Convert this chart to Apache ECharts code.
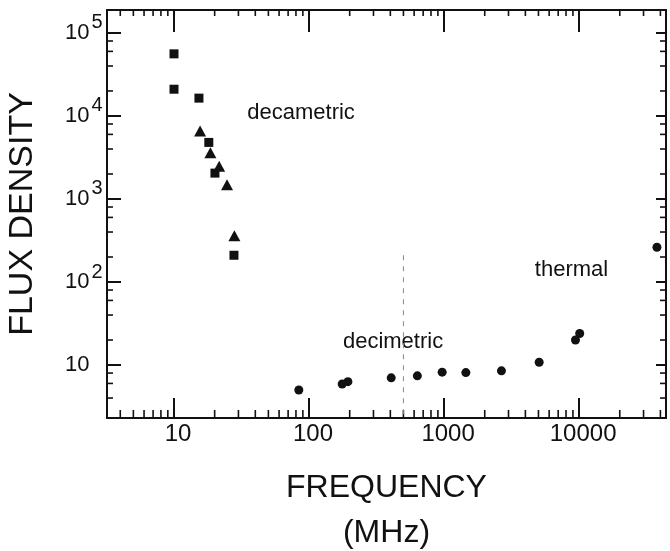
<!DOCTYPE html>
<html><head><meta charset="utf-8">
<script src="https://cdn.jsdelivr.net/npm/echarts@6/dist/echarts.min.js"></script>
<style>html,body{margin:0;padding:0;background:#fff}#c{width:670px;height:551px}</style>
</head><body><div id="c"></div>
<script>
// ---- data ----
const squareFreq = [10, 10, 15.3, 18.1, 20.1, 27.8];
const squareFlux = [56000, 21000, 16400, 4800, 2050, 210];
const triangleFreq = [15.6, 18.6, 21.6, 24.7, 28.0];
const triangleFlux = [6600, 3610, 2480, 1480, 361];
const circleFreq = [84, 176, 194, 406, 634, 968, 1450, 2660, 5060, 9400, 10100, 37700];
const circleFlux = [5.0, 5.9, 6.3, 7.0, 7.4, 8.2, 8.1, 8.5, 10.8, 20, 24, 262];
const annotationText = ['decametric', 'decimetric', 'thermal'];
const annotationFreq = [87.3, 419, 8790];
const annotationFlux = [10900, 18.9, 140];
const dividerFreq = 500;
const dividerFlux = [210, 2.3];
const xMajorTicks = [10, 100, 1000, 10000];
const xTickLabels = ['10', '100', '1000', '10000'];
const xMinorTicks = [4,5,6,7,8,9, 20,30,40,50,60,70,80,90, 200,300,400,500,600,700,800,900,
                     2000,3000,4000,5000,6000,7000,8000,9000, 20000,30000,40000];
const yMajorTicks = [10, 100, 1000, 10000, 100000];
const yTickBase = '10';
const yTickExp = ['', '2', '3', '4', '5'];
const yMinorTicks = [4,6,8, 20,40,60,80, 200,400,600,800, 2000,4000,6000,8000, 20000,40000,60000,80000];
const X_MIN = 3.19, X_MAX = 44000, Y_MIN = 2.3, Y_MAX = 189000;

const INK = '#111';
const FONT = 'Liberation Sans';

const chart = echarts.init(document.getElementById('c'), null, {renderer: 'canvas'});

function baseXAxis(pos) {
  return {
    type: 'log', min: X_MIN, max: X_MAX, position: pos,
    axisLine: {show: true, lineStyle: {color: INK, width: 2}},
    splitLine: {show: false}, minorTick: {show: false},
    axisTick: {show: true, inside: true, customValues: xMajorTicks, length: pos === 'bottom' ? 20 : 22,
      lineStyle: {color: INK, width: 2}},
    axisLabel: {show: false}
  };
}
function baseYAxis(pos) {
  return {
    type: 'log', min: Y_MIN, max: Y_MAX, position: pos,
    axisLine: {show: true, lineStyle: {color: INK, width: 2}},
    splitLine: {show: false}, minorTick: {show: false},
    axisTick: {show: true, inside: true, customValues: yMajorTicks, length: pos === 'left' ? 14 : 10,
      lineStyle: {color: INK, width: 2}},
    axisLabel: {show: false}
  };
}

const xBottom = baseXAxis('bottom');
xBottom.axisLabel = {
  show: true, customValues: xMajorTicks, margin: 4, fontSize: 24, fontFamily: FONT, color: INK,
  padding: [0, 0, 0, 8],
  formatter: v => { const i = xMajorTicks.findIndex(t => Math.abs(t - v) / t < 1e-6); return i < 0 ? '' : xTickLabels[i]; }
};
xBottom.name = 'FREQUENCY\n(MHz)';
xBottom.nameLocation = 'middle';
xBottom.nameGap = 48;
xBottom.nameTextStyle = {fontSize: 32, fontFamily: FONT, color: INK, lineHeight: 45};

const yLeft = baseYAxis('left');
yLeft.axisLabel = {
  show: true, customValues: yMajorTicks, margin: 42, align: 'left', color: INK,
  formatter: v => {
    const i = yMajorTicks.findIndex(t => Math.abs(t - v) / t < 1e-6);
    if (i < 0) return '';
    return yTickExp[i] ? '{b|' + yTickBase + '}{s|' + yTickExp[i] + '}' : '{b|' + yTickBase + '}';
  },
  rich: {
    b: {fontSize: 22, fontFamily: FONT, color: INK},
    s: {fontSize: 20, fontFamily: FONT, color: INK, padding: [0, 0, 20, 2]}
  }
};
yLeft.name = 'FLUX DENSITY';
yLeft.nameLocation = 'middle';
yLeft.nameGap = 67;
yLeft.nameTextStyle = {fontSize: 34, fontFamily: FONT, color: INK};

function xMinorRender(params, api) {
  const p = api.coord([api.value(0), api.value(1)]);
  const cs = params.coordSys;
  const x = p[0];
  const b = cs.y + cs.height;
  return {type: 'group', children: [
    {type: 'line', shape: {x1: x, y1: b, x2: x, y2: b - 8}, style: {stroke: INK, lineWidth: 1.6}},
    {type: 'line', shape: {x1: x, y1: cs.y, x2: x, y2: cs.y + 6}, style: {stroke: INK, lineWidth: 1.6}}
  ]};
}
function yMinorRender(params, api) {
  const p = api.coord([api.value(0), api.value(1)]);
  const cs = params.coordSys;
  const y = p[1];
  const r = cs.x + cs.width;
  return {type: 'group', children: [
    {type: 'line', shape: {x1: cs.x, y1: y, x2: cs.x + 6, y2: y}, style: {stroke: INK, lineWidth: 1.6}},
    {type: 'line', shape: {x1: r, y1: y, x2: r - 6, y2: y}, style: {stroke: INK, lineWidth: 1.6}}
  ]};
}

const option = {
  backgroundColor: '#fff',
  animation: false,
  grid: {left: 107, top: 10, width: 559, height: 408, containLabel: false, outerBoundsMode: 'none'},
  xAxis: [xBottom, baseXAxis('top')],
  yAxis: [yLeft, baseYAxis('right')],
  series: [
    {type: 'custom', silent: true, clip: false, renderItem: xMinorRender,
     data: xMinorTicks.map(v => [v, 10])},
    {type: 'custom', silent: true, clip: false, renderItem: yMinorRender,
     data: yMinorTicks.map(v => [100, v])},
    {type: 'line', silent: true, symbol: 'none', data: dividerFlux.map(f => [dividerFreq, f]),
     lineStyle: {color: '#888', width: 1, type: [5, 6]}},
    {type: 'scatter', symbol: 'rect', symbolSize: 9, itemStyle: {color: INK, opacity: 1},
     data: squareFreq.map((f, i) => [f, squareFlux[i]])},
    {type: 'scatter', symbol: 'triangle', symbolSize: [12, 11], itemStyle: {color: INK, opacity: 1},
     data: triangleFreq.map((f, i) => [f, triangleFlux[i]])},
    {type: 'scatter', symbol: 'circle', symbolSize: 9, itemStyle: {color: INK, opacity: 1},
     data: circleFreq.map((f, i) => [f, circleFlux[i]])},
    {type: 'scatter', silent: true, symbolSize: 0, itemStyle: {opacity: 1},
     data: annotationFreq.map((f, i) => ({value: [f, annotationFlux[i]], name: annotationText[i]})),
     label: {show: true, position: 'inside', formatter: p => p.name, fontSize: 22, fontFamily: FONT, color: INK, opacity: 1}}
  ]
};
chart.setOption(option);
</script>
</body></html>
